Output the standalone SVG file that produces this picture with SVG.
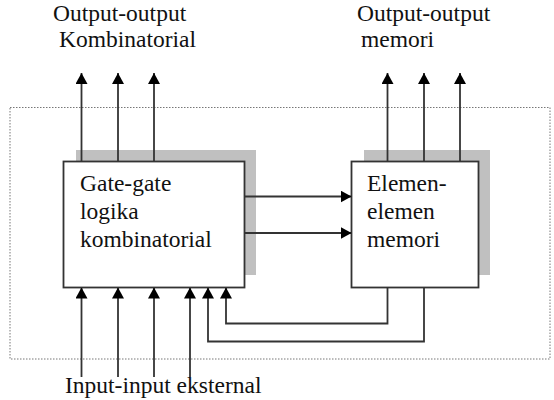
<svg xmlns="http://www.w3.org/2000/svg" width="554" height="400" viewBox="0 0 554 400">
<defs>
<style>
.ln{fill:none;stroke:#333;stroke-width:1.8}
.box{fill:#fff;stroke:#333;stroke-width:1.8}
.sh{fill:#c0c0c0}
</style>
<marker id="ah" markerWidth="11" markerHeight="12" refX="11" refY="6" orient="auto" markerUnits="userSpaceOnUse">
<path d="M0,0 L11,6 L0,12 Z" fill="#000"/>
</marker>
</defs>
<rect width="554" height="400" fill="#fff"/>
<rect x="10" y="107.5" width="540" height="251.5" fill="none" stroke="#777" stroke-width="1" stroke-dasharray="1.5,1.5"/>
<g font-family="Liberation Serif, Times New Roman, serif" font-size="23.5" fill="#111">
<g id="labels">
<text x="53" y="21">Output-output</text>
<text x="59" y="47">Kombinatorial</text>
<text x="357" y="21">Output-output</text>
<text x="361" y="47">memori</text>
<text x="65" y="393">Input-input eksternal</text>
</g>
<g id="comb">
<rect class="sh" x="76" y="150" width="180" height="125"/>
<rect class="box" x="63.5" y="161.5" width="181" height="126"/>
<text x="80" y="191">Gate-gate</text>
<text x="80" y="219">logika</text>
<text x="80" y="247">kombinatorial</text>
</g>
<g id="mem">
<rect class="sh" x="364" y="150" width="126" height="125"/>
<rect class="box" x="351.5" y="161.5" width="127" height="126"/>
<text x="367" y="191">Elemen-</text>
<text x="367" y="219">elemen</text>
<text x="367" y="247">memori</text>
</g>
</g>
<g id="connectors">
<path class="ln" d="M81.5,161.5 V73" marker-end="url(#ah)"/>
<path class="ln" d="M118,161.5 V73" marker-end="url(#ah)"/>
<path class="ln" d="M154,161.5 V73" marker-end="url(#ah)"/>
<path class="ln" d="M387.5,161.5 V73" marker-end="url(#ah)"/>
<path class="ln" d="M424,161.5 V73" marker-end="url(#ah)"/>
<path class="ln" d="M460,161.5 V73" marker-end="url(#ah)"/>
<path class="ln" d="M244.5,196.5 H351.5" marker-end="url(#ah)"/>
<path class="ln" d="M244.5,233 H351.5" marker-end="url(#ah)"/>
<path class="ln" d="M81.5,377 V287.5" marker-end="url(#ah)"/>
<path class="ln" d="M118,377 V287.5" marker-end="url(#ah)"/>
<path class="ln" d="M154,377 V287.5" marker-end="url(#ah)"/>
<path class="ln" d="M190,377 V287.5" marker-end="url(#ah)"/>
<path class="ln" d="M387.5,287.5 V323.5 H226 V287.5" marker-end="url(#ah)"/>
<path class="ln" d="M424,287.5 V341.5 H208 V287.5" marker-end="url(#ah)"/>
</g>
</svg>
